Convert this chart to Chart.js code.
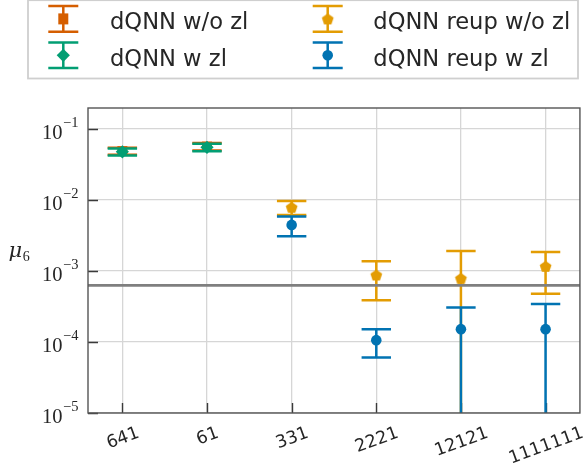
<!DOCTYPE html>
<html>
<head>
<meta charset="utf-8">
<script src="https://cdn.jsdelivr.net/npm/chart.js@4/dist/chart.umd.min.js"></script>
<style>
  html, body { margin: 0; padding: 0; background: #ffffff; }
  #wrap { width: 587px; height: 470px; position: relative; }
</style>
</head>
<body>
<div id="wrap"><canvas id="chart"></canvas></div>
<script>
// Architectures on the x axis
const categories = ['641', '61', '331', '2221', '12121', '1111111'];

// Mean and standard deviation of mu_6 per architecture (null = not run)
const dqnnWoZlMean = [0.0489, 0.0566, null, null, null, null];
const dqnnWoZlStd  = [0.0056, 0.0069, null, null, null, null];

const dqnnWZlMean = [0.04775, 0.05532, null, null, null, null];
const dqnnWZlStd  = [0.00545, 0.00671, null, null, null, null];

const reupWoZlMean = [null, null, 0.007926, 0.00088, 0.000789, 0.001166];
const reupWoZlStd  = [null, null, 0.001755, 0.000491, 0.001127, 0.000688];

const reupWZlMean = [null, null, 0.004466, 0.0001062, 0.0001518, 0.0001518];
const reupWZlStd  = [null, null, 0.001383, 0.0000456, 0.0001555, 0.0001902];

// Reference level drawn as a horizontal line
const referenceLevel = 0.000628;

// Log axis decades that get a label
const yTickValues = [1e-5, 1e-4, 1e-3, 1e-2, 1e-1];
const yMin = 1e-5, yMax = 0.198;
const xMin = -0.406, xMax = categories.length - 1 + 0.406;

const COLORS = {
  woZl: '#d55e00',
  wZl: '#029e73',
  reupWoZl: '#e39c03',
  reupWZl: '#0173b2'
};

const BAR_WIDTH = 2.5;

function pentagonImage(color, r) {
  const size = Math.ceil(2 * r + 2);
  const c = document.createElement('canvas');
  c.width = size; c.height = size;
  const g = c.getContext('2d');
  g.fillStyle = color;
  g.beginPath();
  for (let k = 0; k < 5; k++) {
    const a = -Math.PI / 2 + k * 2 * Math.PI / 5;
    g.lineTo(size / 2 + r * Math.cos(a), size / 2 + r * Math.sin(a) + 0.6);
  }
  g.closePath();
  g.fill();
  return c;
}
const pentagon = pentagonImage(COLORS.reupWoZl, 6.2);

function points(means) {
  const out = [];
  means.forEach((m, i) => { if (m !== null) out.push({ x: i, y: m }); });
  return out;
}

function series(label, means, stds, color, style, radius, order) {
  return {
    label: label,
    data: points(means),
    errStd: stds,
    errMean: means,
    backgroundColor: color,
    borderColor: color,
    pointBackgroundColor: color,
    pointBorderColor: color,
    pointBorderWidth: 0,
    pointStyle: style,
    pointRadius: radius,
    showLine: false,
    order: order
  };
}

const datasets = [
  series('dQNN w/o zl', dqnnWoZlMean, dqnnWoZlStd, COLORS.woZl, 'rect', 7.07, 4),
  series('dQNN w zl', dqnnWZlMean, dqnnWZlStd, COLORS.wZl, 'rectRot', 6.6, 3),
  series('dQNN reup w/o zl', reupWoZlMean, reupWoZlStd, COLORS.reupWoZl, pentagon, 6, 2),
  series('dQNN reup w zl', reupWZlMean, reupWZlStd, COLORS.reupWZl, 'circle', 5.3, 1),
  {
    label: 'reference',
    data: [{ x: xMin, y: referenceLevel }, { x: xMax, y: referenceLevel }],
    showLine: true,
    borderColor: '#7f7f7f',
    borderWidth: 2.6,
    pointRadius: 0,
    order: 0,
    isReference: true
  }
];

// Error bars for each series, drawn just before that series' markers
const errorBars = {
  id: 'errorBars',
  beforeDatasetDraw(chart, args) {
    const ds = chart.data.datasets[args.index];
    if (!ds.errStd) return;
    const { ctx, chartArea } = chart;
    const xs = chart.scales.x, ys = chart.scales.y;
    ctx.save();
    ctx.beginPath();
    ctx.rect(chartArea.left, chartArea.top, chartArea.right - chartArea.left, chartArea.bottom - chartArea.top);
    ctx.clip();
    ctx.strokeStyle = ds.borderColor;
    ctx.lineWidth = BAR_WIDTH;
    ctx.lineCap = 'butt';
    const capHalf = 14.7;
    ds.errMean.forEach((m, i) => {
      if (m === null) return;
      const s = ds.errStd[i];
      const x = xs.getPixelForValue(i);
      const yHi = ys.getPixelForValue(m + s);
      const lowOk = m - s > 0;
      const yLo = lowOk ? ys.getPixelForValue(m - s) : chartArea.bottom + 20;
      ctx.beginPath();
      ctx.moveTo(x, yHi);
      ctx.lineTo(x, yLo);
      ctx.moveTo(x - capHalf, yHi);
      ctx.lineTo(x + capHalf, yHi);
      if (lowOk) {
        ctx.moveTo(x - capHalf, yLo);
        ctx.lineTo(x + capHalf, yLo);
      }
      ctx.stroke();
    });
    ctx.restore();
  }
};

// Inward tick marks on the left and bottom spines
const innerTicks = {
  id: 'innerTicks',
  beforeDatasetsDraw(chart) {
    const { ctx, chartArea } = chart;
    const xs = chart.scales.x, ys = chart.scales.y;
    ctx.save();
    ctx.strokeStyle = '#3a3a3a';
    ctx.lineWidth = 1.4;
    ctx.beginPath();
    categories.forEach((c, i) => {
      const x = Math.round(xs.getPixelForValue(i)) + 0.5;
      ctx.moveTo(x, chartArea.bottom);
      ctx.lineTo(x, chartArea.bottom - 10);
    });
    yTickValues.forEach(v => {
      const y = Math.round(ys.getPixelForValue(v)) + 0.5;
      ctx.moveTo(chartArea.left, y);
      ctx.lineTo(chartArea.left + 10, y);
    });
    ctx.stroke();
    ctx.restore();
  }
};

function drawLegendMarker(ctx, ds, x, y) {
  const color = ds.borderColor;
  ctx.save();
  ctx.strokeStyle = color;
  ctx.fillStyle = color;
  ctx.lineWidth = BAR_WIDTH;
  ctx.beginPath();
  ctx.moveTo(x, y - 12.8); ctx.lineTo(x, y + 12.8);
  ctx.moveTo(x - 15, y - 12.8); ctx.lineTo(x + 15, y - 12.8);
  ctx.moveTo(x - 15, y + 12.8); ctx.lineTo(x + 15, y + 12.8);
  ctx.stroke();
  ctx.beginPath();
  const st = ds.pointStyle;
  if (st === 'rect') {
    ctx.rect(x - 5, y - 5.5, 10, 11);
    ctx.fill();
  } else if (st === 'rectRot') {
    const r = 6.6;
    ctx.moveTo(x, y - r); ctx.lineTo(x + r, y); ctx.lineTo(x, y + r); ctx.lineTo(x - r, y);
    ctx.closePath(); ctx.fill();
  } else if (st === 'circle') {
    ctx.arc(x, y, 5.3, 0, Math.PI * 2);
    ctx.fill();
  } else {
    ctx.drawImage(st, x - st.width / 2, y - st.height / 2);
  }
  ctx.restore();
}

// Frame, tick labels, axis label and legend
const decorations = {
  id: 'decorations',
  afterDatasetsDraw(chart) {
    const { ctx, chartArea } = chart;
    ctx.save();
    ctx.strokeStyle = '#555555';
    ctx.lineWidth = 1.4;
    ctx.strokeRect(chartArea.left, chartArea.top, chartArea.right - chartArea.left, chartArea.bottom - chartArea.top);
    ctx.restore();
  },
  afterDraw(chart) {
    const { ctx, chartArea } = chart;
    const xs = chart.scales.x, ys = chart.scales.y;
    ctx.save();
    ctx.fillStyle = '#262626';

    // y tick labels as 10^n
    yTickValues.forEach(v => {
      const y = ys.getPixelForValue(v);
      const exp = Math.round(Math.log10(v));
      const sup = '\u2212' + Math.abs(exp);
      ctx.font = '14.5px "Liberation Serif"';
      const supW = ctx.measureText(sup).width;
      ctx.textAlign = 'right';
      ctx.textBaseline = 'alphabetic';
      const right = 78.5;
      ctx.fillText(sup, right, y - 2);
      ctx.font = '20.5px "Liberation Serif"';
      ctx.fillText('10', right - supW - 0.5, y + 9.5);
    });

    // y axis label
    ctx.textAlign = 'left';
    ctx.font = 'italic 21px "DejaVu Serif"';
    ctx.fillText('\u03bc', 8.5, 256.5);
    const muW = ctx.measureText('\u03bc').width;
    ctx.font = '14px "Liberation Serif"';
    ctx.fillText('6', 8.5 + muW + 0.5, 260.5);

    // x tick labels, rotated and centred under each tick
    const theta = 20 * Math.PI / 180;
    ctx.font = '17.5px "DejaVu Sans"';
    categories.forEach((c, i) => {
      const x = xs.getPixelForValue(i);
      const m = ctx.measureText(c);
      const w = m.width;
      const h = m.actualBoundingBoxAscent;
      const H = w * Math.sin(theta) + h * Math.cos(theta);
      const cy = chartArea.bottom + 11.8 + H / 2;
      ctx.save();
      ctx.translate(x, cy);
      ctx.rotate(-theta);
      ctx.textAlign = 'left';
      ctx.textBaseline = 'alphabetic';
      ctx.fillText(c, -w / 2, h / 2);
      ctx.restore();
    });

    // legend
    ctx.fillStyle = '#ffffff';
    ctx.fillRect(28, 0, 550, 79);
    ctx.strokeStyle = '#cfcfcf';
    ctx.lineWidth = 1.8;
    ctx.strokeRect(28, 0.2, 550, 78.3);
    const entries = chart.data.datasets.filter(d => !d.isReference);
    const colX = [63.3, 327.7];
    const textX = [110, 373.3];
    const rowY = [18.9, 55.3];
    const baseY = [29.3, 65.7];
    ctx.font = '22.6px "DejaVu Sans"';
    ctx.textAlign = 'left';
    ctx.textBaseline = 'alphabetic';
    entries.forEach((ds, k) => {
      const col = Math.floor(k / 2), row = k % 2;
      drawLegendMarker(ctx, ds, colX[col], rowY[row]);
      ctx.fillStyle = '#262626';
      ctx.fillText(ds.label, textX[col], baseY[row]);
    });
    ctx.restore();
  }
};

new Chart(document.getElementById('chart'), {
  type: 'scatter',
  data: { datasets: datasets },
  options: {
    responsive: true,
    maintainAspectRatio: false,
    animation: false,
    devicePixelRatio: 1,
    layout: { padding: { top: 108, right: 6, left: 0, bottom: 0 } },
    plugins: { legend: { display: false }, tooltip: { enabled: false } },
    scales: {
      x: {
        type: 'linear',
        min: xMin,
        max: xMax,
        afterBuildTicks: s => { s.ticks = categories.map((c, i) => ({ value: i })); },
        afterFit: s => { s.height = 57; },
        ticks: { display: false },
        grid: { color: '#d6d6d6', lineWidth: 1.3, drawTicks: false },
        border: { display: false }
      },
      y: {
        type: 'logarithmic',
        min: yMin,
        max: yMax,
        afterBuildTicks: s => { s.ticks = yTickValues.map(v => ({ value: v })); },
        afterFit: s => { s.width = 88; },
        ticks: { display: false },
        grid: { color: '#d6d6d6', lineWidth: 1.3, drawTicks: false },
        border: { display: false }
      }
    }
  },
  plugins: [errorBars, innerTicks, decorations]
});
</script>
</body>
</html>
